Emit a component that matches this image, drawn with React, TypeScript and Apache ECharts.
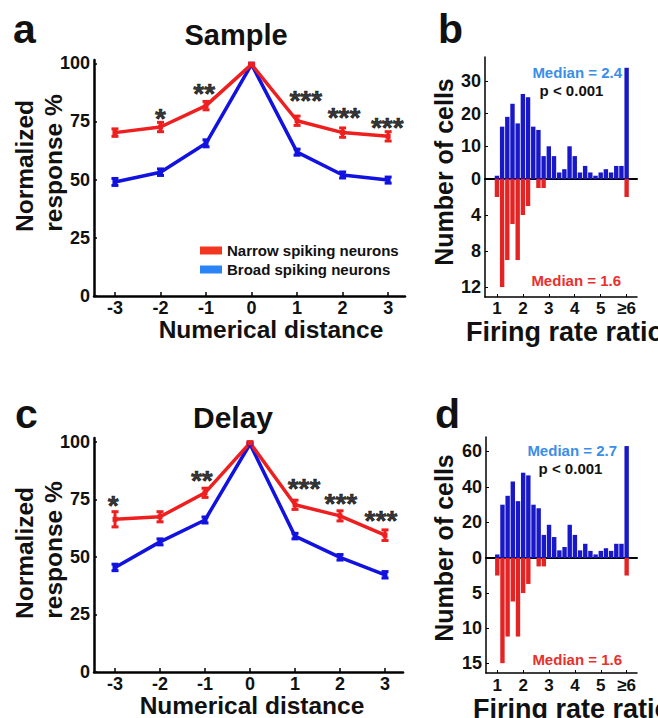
import React, { useEffect, useRef } from "react";
import * as echarts from "echarts";

const FONT = "'Liberation Sans', Arial, Helvetica, sans-serif";

// ---- Panels a & c: normalized response vs numerical distance ----
const distances = [-3, -2, -1, 0, 1, 2, 3];
const distanceTicks = [-3, -2, -1, 0, 1, 2, 3];
const responseTicks = [0, 25, 50, 75, 100];

const sampleNarrow = [70.2, 72.6, 81.8, 99.5, 75.3, 70.2, 68.6];
const sampleNarrowErr = [1.6, 2.0, 1.8, 0.5, 2.0, 2.0, 2.0];
const sampleBroad = [49.0, 53.2, 65.6, 99.5, 61.8, 52.0, 49.8];
const sampleBroadErr = [1.5, 1.4, 1.5, 0.5, 1.3, 1.3, 1.3];

const delayNarrow = [66.3, 67.4, 77.8, 99.5, 72.6, 67.8, 59.4];
const delayNarrowErr = [3.3, 2.2, 2.0, 0.5, 2.0, 2.2, 2.3];
const delayBroad = [45.4, 56.5, 66.0, 99.0, 59.0, 49.8, 42.2];
const delayBroadErr = [1.4, 1.3, 1.3, 0.5, 1.2, 1.2, 1.4];

// significance stars (text, x, y in data units)
const sampleStarText = ["*", "**", "***", "***", "***"];
const sampleStarX = [-2.0, -1.04, 1.19, 2.03, 2.98];
const sampleStarY = [79.2, 90.2, 86.8, 79.5, 75.6];
const delayStarText = ["*", "**", "***", "***", "***"];
const delayStarX = [-3.04, -1.07, 1.2, 2.02, 2.91];
const delayStarY = [75.2, 86.0, 82.6, 76.1, 68.9];

// ---- Panels b & d: firing-rate-ratio histograms ----
const bins = [1.0, 1.2, 1.4, 1.6, 1.8, 2.0, 2.2, 2.4, 2.6, 2.8, 3.0, 3.2, 3.4, 3.6, 3.8, 4.0, 4.2, 4.4, 4.6, 4.8, 5.0, 5.2, 5.4, 5.6, 5.8, 6.0];
const ratioTicks = [1, 2, 3, 4, 5, 6];
const sampleBroadCells = [1, 16, 19, 23, 17, 26, 25, 16, 15, 7, 10, 7, 2, 3, 10, 7, 2, 4, 2, 1, 2, 3, 2, 4, 4, 34];
const sampleNarrowCells = [2, 12, 9, 5, 9, 4, 3, 0, 1, 1, 0, 0, 0, 0, 0, 0, 0, 0, 0, 0, 0, 0, 0, 0, 0, 2];
const delayBroadCells = [2, 30, 35, 43, 32, 48, 46.5, 30, 28, 13, 18.7, 11.8, 4.3, 6.2, 18.7, 13, 4.3, 8, 4, 2, 4, 5.5, 4, 8, 8, 63];
const delayNarrowCells = [2.5, 15, 11.2, 6.2, 11.2, 5, 3.7, 0, 1.2, 1.2, 0, 0, 0, 0, 0, 0, 0, 0, 0, 0, 0, 0, 0, 0, 0, 2.5];
const sampleUpTicks = [0, 10, 20, 30];
const sampleDownTicks = [4, 8, 12];
const delayUpTicks = [0, 20, 40, 60];
const delayDownTicks = [5, 10, 15];

const RED = "#ee1f1f";
const BLUE = "#1212e0";
const BAR_BLUE = "#1818c8";
const BAR_RED = "#e42424";
const MED_BLUE = "#3a8ee8";
const MED_RED = "#e8302c";

function errorSeries(idx: number, values: number[], errs: number[], color: string) {
  return {
    type: "custom",
    xAxisIndex: idx,
    yAxisIndex: idx,
    silent: true,
    z: 3,
    data: distances.map((d, i) => [d, values[i], errs[i]]),
    renderItem: (_params: any, api: any) => {
      const x = api.value(0);
      const y = api.value(1);
      const e = api.value(2);
      const hi = api.coord([x, y + e]);
      const lo = api.coord([x, y - e]);
      const w = 3.5;
      const st = () => ({ stroke: color, lineWidth: 3 });
      return {
        type: "group",
        children: [
          { type: "line", shape: { x1: hi[0], y1: hi[1], x2: lo[0], y2: lo[1] }, style: st() },
          { type: "line", shape: { x1: hi[0] - w, y1: hi[1], x2: hi[0] + w, y2: hi[1] }, style: st() },
          { type: "line", shape: { x1: lo[0] - w, y1: lo[1], x2: lo[0] + w, y2: lo[1] }, style: st() },
        ],
      };
    },
  };
}

function lineSeries(name: string, idx: number, values: number[], color: string) {
  return {
    type: "line",
    name,
    xAxisIndex: idx,
    yAxisIndex: idx,
    data: distances.map((d, i) => [d, values[i]]),
    lineStyle: { color, width: 3.5 },
    itemStyle: { color },
    symbol: "rect",
    symbolSize: 5,
    z: 4,
  };
}

function starSeries(idx: number, xs: number[], ys: number[], texts: string[]) {
  return {
    type: "scatter",
    xAxisIndex: idx,
    yAxisIndex: idx,
    silent: true,
    symbolSize: 1,
    itemStyle: { color: "rgba(0,0,0,0)" },
    z: 5,
    data: xs.map((x, i) => ({ value: [x, ys[i]], label: { formatter: texts[i] } })),
    label: {
      show: true,
      position: "inside",
      offset: [0, 7],
      fontFamily: FONT,
      fontSize: 28,
      fontWeight: "bold",
      color: "#000",
      textBorderColor: "#000",
      textBorderWidth: 0.6,
    },
  };
}

function barSeries(idx: number, counts: number[], color: string) {
  return {
    type: "bar",
    xAxisIndex: idx,
    yAxisIndex: idx,
    data: bins.map((b, i) => [b, counts[i]]),
    barWidth: 4.4,
    itemStyle: { color },
    silent: true,
  };
}

const tickLabelStyle = (size: number, margin: number) => ({
  fontFamily: FONT,
  fontSize: size,
  fontWeight: "bold",
  color: "#111",
  margin,
});

function lineXAxis(grid: number, min: number, max: number) {
  return {
    type: "value",
    gridIndex: grid,
    min,
    max,
    axisLine: { show: true, onZero: false, lineStyle: { color: "#000", width: 2.5 } },
    axisTick: { show: true, inside: true, length: 4, customValues: distanceTicks, lineStyle: { color: "#000", width: 1.5 } },
    axisLabel: { ...tickLabelStyle(18, 3), customValues: distanceTicks, formatter: (v: number) => String(v) },
    splitLine: { show: false },
  };
}

function lineYAxis(grid: number, max: number) {
  return {
    type: "value",
    gridIndex: grid,
    min: 0,
    max,
    axisLine: { show: true, onZero: false, lineStyle: { color: "#000", width: 2.5 } },
    axisTick: { show: true, inside: true, length: 3, customValues: responseTicks, lineStyle: { color: "#000", width: 1.5 } },
    axisLabel: { ...tickLabelStyle(18, 4), customValues: responseTicks },
    splitLine: { show: false },
  };
}

function histXAxis(grid: number, min: number, max: number, withLabels: boolean, margin: number) {
  return {
    type: "value",
    gridIndex: grid,
    min,
    max,
    position: "bottom",
    axisLine: { show: true, onZero: false, lineStyle: { color: "#000", width: withLabels ? 1.5 : 2 } },
    axisTick: { show: withLabels, inside: true, length: 3, customValues: ratioTicks, lineStyle: { color: "#000", width: 1 } },
    axisLabel: {
      show: withLabels,
      ...tickLabelStyle(17, margin),
      customValues: ratioTicks,
      formatter: (v: number) => (v === 6 ? "≥6" : String(v)),
    },
    splitLine: { show: false },
  };
}

function histYAxis(grid: number, max: number, ticks: number[], inverse: boolean) {
  return {
    type: "value",
    gridIndex: grid,
    min: 0,
    max,
    inverse,
    axisLine: { show: true, onZero: false, lineStyle: { color: "#000", width: 1.5 } },
    axisTick: { show: true, inside: true, length: 3, customValues: ticks, lineStyle: { color: "#000", width: 1 } },
    axisLabel: { ...tickLabelStyle(18, 4), customValues: ticks },
    splitLine: { show: false },
  };
}

function txt(text: string, x: number, y: number, size: number, opts: any = {}) {
  return {
    type: "text",
    x,
    y,
    rotation: opts.rotation || 0,
    silent: true,
    style: {
      text,
      fill: opts.color || "#111",
      font: `bold ${size}px ${FONT}`,
      textAlign: opts.align || "center",
      textVerticalAlign: "middle",
    },
  };
}

export default function App() {
  const ref = useRef<HTMLDivElement>(null);
  useEffect(() => {
    if (!ref.current) return;
    const chart = echarts.init(ref.current, undefined, { renderer: "svg" });
    const R = Math.PI / 2;
    const option: any = {
      animation: false,
      backgroundColor: "#fff",
      grid: [
        { left: 94, top: 60, width: 311, height: 236 },
        { left: 94, top: 438, width: 309, height: 234 },
        { left: 485, top: 57, width: 152, height: 122 },
        { left: 485, top: 179, width: 152, height: 118 },
        { left: 486, top: 437, width: 151, height: 121 },
        { left: 486, top: 558, width: 151, height: 115 },
      ],
      xAxis: [
        lineXAxis(0, -3.46, 3.37),
        lineXAxis(1, -3.467, 3.4),
        histXAxis(2, 0.54, 6.4, false, 0),
        histXAxis(3, 0.54, 6.4, true, 3),
        histXAxis(4, 0.564, 6.4, false, 0),
        histXAxis(5, 0.564, 6.4, true, 4),
      ],
      yAxis: [
        lineYAxis(0, 101.4),
        lineYAxis(1, 101.6),
        histYAxis(2, 37.3, sampleUpTicks, false),
        histYAxis(3, 13.1, sampleDownTicks, true),
        histYAxis(4, 68.1, delayUpTicks, false),
        histYAxis(5, 16.4, delayDownTicks, true),
      ],
      legend: {
        orient: "vertical",
        left: 195,
        top: 238,
        itemWidth: 22,
        itemHeight: 8,
        itemGap: 4,
        icon: "rect",
        selectedMode: false,
        data: [
          { name: "Narrow spiking neurons", itemStyle: { color: "#f2361f" } },
          { name: "Broad spiking neurons", itemStyle: { color: "#2b84f5" } },
        ],
        textStyle: { fontFamily: FONT, fontSize: 15, fontWeight: "bold", color: "#111" },
      },
      series: [
        errorSeries(0, sampleBroad, sampleBroadErr, BLUE),
        lineSeries("Broad spiking neurons", 0, sampleBroad, BLUE),
        errorSeries(0, sampleNarrow, sampleNarrowErr, RED),
        lineSeries("Narrow spiking neurons", 0, sampleNarrow, RED),
        starSeries(0, sampleStarX, sampleStarY, sampleStarText),
        errorSeries(1, delayBroad, delayBroadErr, BLUE),
        lineSeries("Broad spiking neurons", 1, delayBroad, BLUE),
        errorSeries(1, delayNarrow, delayNarrowErr, RED),
        lineSeries("Narrow spiking neurons", 1, delayNarrow, RED),
        starSeries(1, delayStarX, delayStarY, delayStarText),
        barSeries(2, sampleBroadCells, BAR_BLUE),
        barSeries(3, sampleNarrowCells, BAR_RED),
        barSeries(4, delayBroadCells, BAR_BLUE),
        barSeries(5, delayNarrowCells, BAR_RED),
      ],
      graphic: [
        txt("a", 13, 28.5, 41, { align: "left" }),
        txt("b", 438, 28.5, 41, { align: "left" }),
        txt("c", 15, 414, 41, { align: "left" }),
        txt("d", 435, 414, 41, { align: "left" }),
        txt("Sample", 236, 34.8, 29),
        txt("Delay", 233, 417.5, 30),
        txt("Numerical distance", 271, 329.5, 24.5),
        txt("Numerical distance", 252, 705.5, 24.5),
        txt("Normalized", 24.4, 166, 24.5, { rotation: R }),
        txt("response %", 53, 163, 24.5, { rotation: R }),
        txt("Normalized", 24.4, 553, 24.5, { rotation: R }),
        txt("response %", 53, 550, 24.5, { rotation: R }),
        txt("Number of cells", 444, 172, 25, { rotation: R }),
        txt("Number of cells", 444, 548, 25, { rotation: R }),
        txt("Firing rate ratio", 466, 331.5, 27, { align: "left" }),
        txt("Firing rate ratio", 473, 708.5, 27, { align: "left" }),
        txt("Median = 2.4", 622, 72.5, 15, { align: "right", color: MED_BLUE }),
        txt("p < 0.001", 571.5, 90, 15),
        txt("Median = 1.6", 621, 280.7, 15, { align: "right", color: MED_RED }),
        txt("Median = 2.7", 617, 450.7, 15, { align: "right", color: MED_BLUE }),
        txt("p < 0.001", 570.5, 468, 15),
        txt("Median = 1.6", 622, 659, 15, { align: "right", color: MED_RED }),
      ],
    };
    chart.setOption(option);
    return () => chart.dispose();
  }, []);
  return (
    <div
      ref={ref}
      style={{ position: "absolute", left: 0, top: 0, width: 658, height: 718, background: "#fff" }}
    />
  );
}
